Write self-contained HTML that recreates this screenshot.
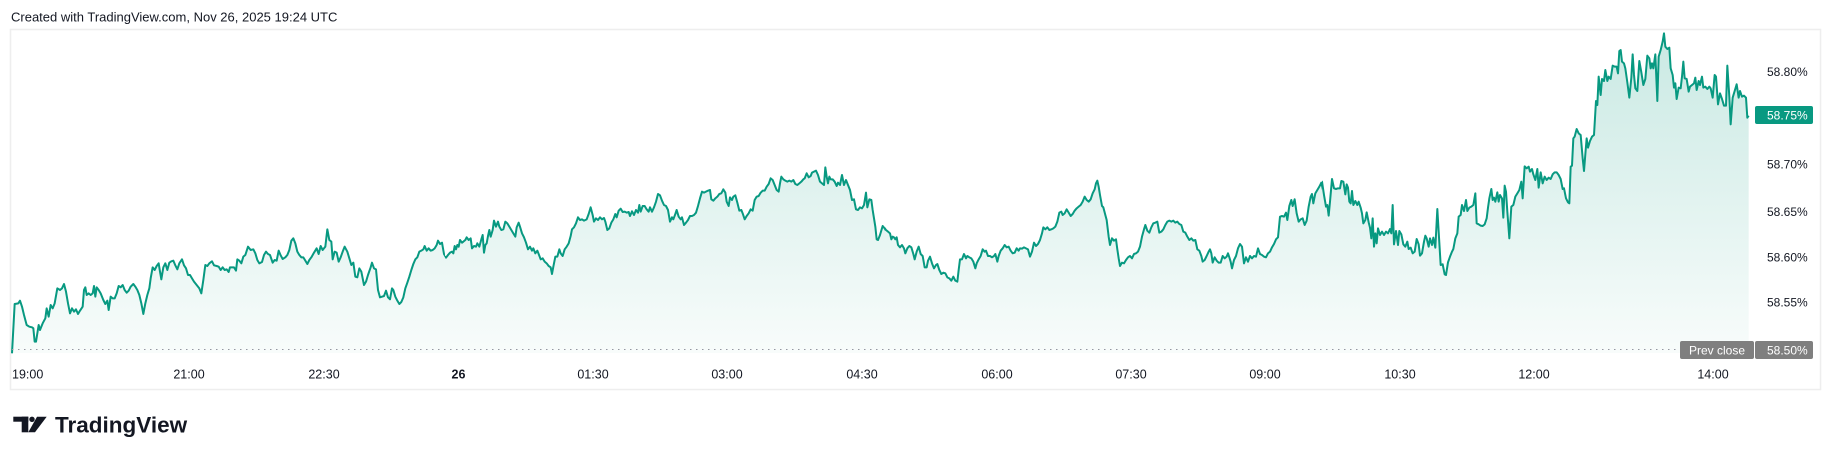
<!DOCTYPE html>
<html><head><meta charset="utf-8"><style>
html,body{margin:0;padding:0;background:#fff;}
body{width:1831px;height:458px;overflow:hidden;}
svg{display:block;font-family:"Liberation Sans",sans-serif;}
</style></head><body>
<svg width="1831" height="458" viewBox="0 0 1831 458" xmlns="http://www.w3.org/2000/svg">
<defs>
<linearGradient id="g1" gradientUnits="userSpaceOnUse" x1="0" y1="-450" x2="0" y2="519"><stop offset="0" stop-color="#c9e9e3"/><stop offset="1" stop-color="#f8fcfb"/></linearGradient>
<linearGradient id="g2" gradientUnits="userSpaceOnUse" x1="0" y1="-300" x2="0" y2="669"><stop offset="0" stop-color="#c9e9e3"/><stop offset="1" stop-color="#f8fcfb"/></linearGradient>
<linearGradient id="g3" gradientUnits="userSpaceOnUse" x1="0" y1="-360" x2="0" y2="609"><stop offset="0" stop-color="#c9e9e3"/><stop offset="1" stop-color="#f8fcfb"/></linearGradient>
<linearGradient id="g4" gradientUnits="userSpaceOnUse" x1="0" y1="15" x2="0" y2="984"><stop offset="0" stop-color="#c9e9e3"/><stop offset="1" stop-color="#f8fcfb"/></linearGradient>
<clipPath id="c1"><rect x="0" y="25" width="445" height="335"/></clipPath>
<clipPath id="c2"><rect x="445" y="25" width="440" height="335"/></clipPath>
<clipPath id="c3"><rect x="885" y="25" width="437" height="335"/></clipPath>
<clipPath id="c4"><rect x="1322" y="25" width="430" height="335"/></clipPath>
</defs>

<text x="11" y="21.5" font-size="13" fill="#131722">Created with TradingView.com, Nov 26, 2025 19:24 UTC</text>

<rect x="10.5" y="29.5" width="1810" height="360" fill="#fff" stroke="#eeeeee" stroke-width="1.5"/>

<!-- segment 1 -->
<g clip-path="url(#c1)"><g transform="translate(0,180) scale(0.33333)">
<polygon fill="url(#g1)" points="36,520 44,372 55,370 60,362 66,380 72,405 80,435 88,440 96,442 100,445 104,485 108,485 116,435 120,450 128,430 136,415 140,385 146,410 152,375 158,385 164,370 172,325 180,330 186,325 192,312 198,335 204,370 210,400 216,385 222,395 228,388 234,402 240,392 248,380 252,330 256,322 260,345 266,340 272,345 278,340 282,318 286,350 290,322 296,330 302,340 310,360 316,372 322,362 326,390 332,350 338,355 344,355 350,340 356,318 362,322 368,315 374,330 380,338 386,332 392,320 400,312 406,320 412,330 418,345 424,370 430,402 436,370 442,345 448,325 452,295 458,262 464,270 470,258 476,250 480,275 484,298 490,262 496,250 502,270 508,248 514,244 520,242 526,256 532,268 538,250 546,238 552,256 558,265 564,285 570,285 576,295 582,305 590,315 598,325 604,340 610,300 616,255 622,258 628,250 636,244 642,256 650,258 656,260 662,270 668,262 674,270 680,268 686,276 690,262 696,262 702,262 708,272 712,238 718,242 724,250 730,230 736,225 744,200 752,210 760,208 766,220 772,240 778,250 786,246 792,225 798,215 804,222 810,225 818,248 824,240 830,242 836,212 842,226 848,237 856,232 862,225 868,210 874,182 880,175 886,190 892,215 898,225 904,232 910,232 916,242 922,252 928,240 934,232 942,218 950,205 956,222 962,198 968,210 976,200 982,148 988,180 994,185 998,238 1004,215 1010,218 1016,245 1022,232 1028,215 1034,200 1042,215 1048,235 1054,255 1060,248 1066,290 1072,292 1078,265 1084,275 1092,315 1098,305 1104,285 1112,262 1116,248 1122,265 1128,268 1134,330 1140,352 1146,350 1152,348 1158,332 1164,352 1170,358 1176,325 1180,330 1186,350 1192,362 1198,372 1204,366 1210,352 1216,325 1222,308 1228,290 1234,270 1240,252 1246,238 1252,232 1258,215 1264,212 1270,208 1274,198 1280,212 1286,205 1292,212 1298,210 1304,205 1310,195 1314,182 1320,192 1326,188 1332,222 1338,232 1344,228 1350,218 1350,519 36,519"/>
<polyline fill="none" stroke="#089981" stroke-width="2" stroke-linejoin="round" vector-effect="non-scaling-stroke" points="36,520 44,372 55,370 60,362 66,380 72,405 80,435 88,440 96,442 100,445 104,485 108,485 116,435 120,450 128,430 136,415 140,385 146,410 152,375 158,385 164,370 172,325 180,330 186,325 192,312 198,335 204,370 210,400 216,385 222,395 228,388 234,402 240,392 248,380 252,330 256,322 260,345 266,340 272,345 278,340 282,318 286,350 290,322 296,330 302,340 310,360 316,372 322,362 326,390 332,350 338,355 344,355 350,340 356,318 362,322 368,315 374,330 380,338 386,332 392,320 400,312 406,320 412,330 418,345 424,370 430,402 436,370 442,345 448,325 452,295 458,262 464,270 470,258 476,250 480,275 484,298 490,262 496,250 502,270 508,248 514,244 520,242 526,256 532,268 538,250 546,238 552,256 558,265 564,285 570,285 576,295 582,305 590,315 598,325 604,340 610,300 616,255 622,258 628,250 636,244 642,256 650,258 656,260 662,270 668,262 674,270 680,268 686,276 690,262 696,262 702,262 708,272 712,238 718,242 724,250 730,230 736,225 744,200 752,210 760,208 766,220 772,240 778,250 786,246 792,225 798,215 804,222 810,225 818,248 824,240 830,242 836,212 842,226 848,237 856,232 862,225 868,210 874,182 880,175 886,190 892,215 898,225 904,232 910,232 916,242 922,252 928,240 934,232 942,218 950,205 956,222 962,198 968,210 976,200 982,148 988,180 994,185 998,238 1004,215 1010,218 1016,245 1022,232 1028,215 1034,200 1042,215 1048,235 1054,255 1060,248 1066,290 1072,292 1078,265 1084,275 1092,315 1098,305 1104,285 1112,262 1116,248 1122,265 1128,268 1134,330 1140,352 1146,350 1152,348 1158,332 1164,352 1170,358 1176,325 1180,330 1186,350 1192,362 1198,372 1204,366 1210,352 1216,325 1222,308 1228,290 1234,270 1240,252 1246,238 1252,232 1258,215 1264,212 1270,208 1274,198 1280,212 1286,205 1292,212 1298,210 1304,205 1310,195 1314,182 1320,192 1326,188 1332,222 1338,232 1344,228 1350,218"/>
</g></g>

<!-- segment 2 -->
<g clip-path="url(#c2)"><g transform="translate(440,130) scale(0.33333)">
<polygon fill="url(#g2)" points="0,340 6,355 12,378 18,383 24,375 30,368 36,365 40,370 44,348 48,358 52,345 56,350 60,330 66,338 70,335 76,330 80,322 86,330 92,325 96,355 102,348 108,350 112,340 118,350 124,328 128,315 132,368 136,345 140,340 144,318 148,300 152,320 158,300 162,272 168,290 174,275 178,290 184,300 190,298 196,275 202,280 208,290 214,300 220,310 226,320 230,292 236,278 240,290 246,310 252,322 258,338 264,358 270,350 276,362 280,355 286,370 292,362 296,372 302,388 308,385 314,395 320,400 326,408 332,412 336,432 340,410 346,380 352,380 358,358 362,370 368,378 374,358 380,350 386,340 392,318 396,298 402,292 408,280 414,262 420,270 426,268 432,272 440,268 446,252 452,232 458,255 462,275 468,265 474,270 480,262 486,268 492,264 496,275 502,300 508,295 514,278 520,268 526,252 530,262 536,242 542,236 548,246 554,245 560,248 566,246 570,258 576,244 582,255 588,240 594,248 598,225 602,245 608,228 614,228 620,238 626,245 630,232 636,245 642,232 648,215 654,192 660,196 666,212 672,225 678,228 684,240 690,275 696,262 700,268 706,252 710,240 716,260 722,268 726,262 732,285 738,278 744,270 750,258 756,258 762,255 768,248 774,228 780,205 786,185 792,188 798,185 804,182 810,180 814,208 820,212 826,205 832,200 838,192 844,190 850,178 856,188 860,215 866,228 870,202 876,210 880,200 886,196 892,218 898,242 904,240 908,250 914,268 920,258 926,250 932,238 938,242 944,210 950,200 956,198 962,188 968,182 974,182 980,170 986,162 992,145 998,150 1004,165 1010,180 1016,185 1020,160 1024,140 1030,148 1036,152 1042,155 1048,152 1054,155 1060,150 1066,162 1072,165 1078,160 1084,155 1090,148 1094,145 1100,130 1106,142 1112,138 1116,128 1122,125 1128,122 1134,135 1140,155 1146,160 1152,165 1156,112 1160,140 1164,160 1168,140 1172,148 1178,148 1184,155 1190,168 1194,158 1200,165 1206,135 1212,165 1218,150 1224,165 1230,180 1236,210 1242,208 1248,238 1254,240 1260,232 1266,235 1272,225 1278,188 1282,232 1288,208 1294,210 1298,240 1302,265 1306,290 1310,328 1314,330 1320,315 1328,288 1334,295 1340,305 1346,310 1350,318 1350,669 0,669"/>
<polyline fill="none" stroke="#089981" stroke-width="2" stroke-linejoin="round" vector-effect="non-scaling-stroke" points="0,340 6,355 12,378 18,383 24,375 30,368 36,365 40,370 44,348 48,358 52,345 56,350 60,330 66,338 70,335 76,330 80,322 86,330 92,325 96,355 102,348 108,350 112,340 118,350 124,328 128,315 132,368 136,345 140,340 144,318 148,300 152,320 158,300 162,272 168,290 174,275 178,290 184,300 190,298 196,275 202,280 208,290 214,300 220,310 226,320 230,292 236,278 240,290 246,310 252,322 258,338 264,358 270,350 276,362 280,355 286,370 292,362 296,372 302,388 308,385 314,395 320,400 326,408 332,412 336,432 340,410 346,380 352,380 358,358 362,370 368,378 374,358 380,350 386,340 392,318 396,298 402,292 408,280 414,262 420,270 426,268 432,272 440,268 446,252 452,232 458,255 462,275 468,265 474,270 480,262 486,268 492,264 496,275 502,300 508,295 514,278 520,268 526,252 530,262 536,242 542,236 548,246 554,245 560,248 566,246 570,258 576,244 582,255 588,240 594,248 598,225 602,245 608,228 614,228 620,238 626,245 630,232 636,245 642,232 648,215 654,192 660,196 666,212 672,225 678,228 684,240 690,275 696,262 700,268 706,252 710,240 716,260 722,268 726,262 732,285 738,278 744,270 750,258 756,258 762,255 768,248 774,228 780,205 786,185 792,188 798,185 804,182 810,180 814,208 820,212 826,205 832,200 838,192 844,190 850,178 856,188 860,215 866,228 870,202 876,210 880,200 886,196 892,218 898,242 904,240 908,250 914,268 920,258 926,250 932,238 938,242 944,210 950,200 956,198 962,188 968,182 974,182 980,170 986,162 992,145 998,150 1004,165 1010,180 1016,185 1020,160 1024,140 1030,148 1036,152 1042,155 1048,152 1054,155 1060,150 1066,162 1072,165 1078,160 1084,155 1090,148 1094,145 1100,130 1106,142 1112,138 1116,128 1122,125 1128,122 1134,135 1140,155 1146,160 1152,165 1156,112 1160,140 1164,160 1168,140 1172,148 1178,148 1184,155 1190,168 1194,158 1200,165 1206,135 1212,165 1218,150 1224,165 1230,180 1236,210 1242,208 1248,238 1254,240 1260,232 1266,235 1272,225 1278,188 1282,232 1288,208 1294,210 1298,240 1302,265 1306,290 1310,328 1314,330 1320,315 1328,288 1334,295 1340,305 1346,310 1350,318"/>
</g></g>

<!-- segment 3 -->
<g clip-path="url(#c3)"><g transform="translate(880,150) scale(0.33333)">
<polygon fill="url(#g3)" points="0,252 6,228 12,232 18,240 24,245 30,250 34,268 38,260 42,262 46,268 50,262 54,285 60,292 66,285 72,295 76,310 82,295 88,288 94,292 100,312 104,328 110,305 116,290 122,312 128,318 134,352 140,352 144,332 150,320 156,340 162,355 168,345 172,342 178,360 184,372 190,368 196,370 202,382 208,385 214,392 220,380 226,392 232,395 236,360 240,328 246,328 252,312 258,325 262,318 268,322 274,325 280,335 286,355 290,340 296,328 302,318 308,298 314,305 318,302 324,318 330,318 336,322 342,318 346,312 352,335 356,318 362,302 368,295 374,285 380,292 386,290 392,302 398,310 404,308 410,295 416,302 420,295 426,296 432,292 438,295 444,298 450,320 456,305 462,278 468,288 474,282 480,270 486,250 490,232 496,238 502,232 508,240 514,238 520,235 526,230 532,215 538,188 544,185 548,195 554,190 560,178 566,188 572,198 578,192 584,182 590,175 596,170 602,165 608,155 614,140 620,150 626,155 632,148 638,130 644,118 648,100 652,92 656,110 660,135 666,168 670,172 676,195 680,210 686,260 690,285 696,265 702,272 708,268 712,298 716,325 720,348 726,338 732,340 738,330 744,322 750,318 756,325 762,312 768,310 774,305 780,290 786,260 792,238 796,225 802,242 808,248 814,232 820,220 826,218 832,215 838,248 844,245 850,238 856,225 862,215 868,212 874,215 880,212 886,218 892,215 898,222 904,225 910,245 916,248 922,260 928,270 934,265 940,272 946,270 952,298 958,302 964,318 968,335 974,330 980,318 986,305 990,298 994,310 998,338 1004,322 1010,332 1016,338 1022,338 1028,318 1034,325 1040,320 1044,310 1048,322 1052,335 1056,355 1062,330 1068,318 1074,295 1080,282 1086,290 1092,340 1098,322 1104,335 1110,318 1116,325 1122,318 1128,320 1134,295 1140,312 1146,315 1152,320 1158,322 1164,310 1170,305 1176,292 1182,282 1188,268 1194,262 1200,200 1206,198 1212,200 1218,188 1222,210 1228,168 1234,150 1238,168 1244,148 1250,190 1256,215 1262,208 1268,205 1274,225 1280,212 1286,170 1292,140 1296,132 1300,160 1306,130 1312,120 1318,110 1324,98 1330,125 1336,158 1338,182 1342,170 1346,198 1350,195 1350,609 0,609"/>
<polyline fill="none" stroke="#089981" stroke-width="2" stroke-linejoin="round" vector-effect="non-scaling-stroke" points="0,252 6,228 12,232 18,240 24,245 30,250 34,268 38,260 42,262 46,268 50,262 54,285 60,292 66,285 72,295 76,310 82,295 88,288 94,292 100,312 104,328 110,305 116,290 122,312 128,318 134,352 140,352 144,332 150,320 156,340 162,355 168,345 172,342 178,360 184,372 190,368 196,370 202,382 208,385 214,392 220,380 226,392 232,395 236,360 240,328 246,328 252,312 258,325 262,318 268,322 274,325 280,335 286,355 290,340 296,328 302,318 308,298 314,305 318,302 324,318 330,318 336,322 342,318 346,312 352,335 356,318 362,302 368,295 374,285 380,292 386,290 392,302 398,310 404,308 410,295 416,302 420,295 426,296 432,292 438,295 444,298 450,320 456,305 462,278 468,288 474,282 480,270 486,250 490,232 496,238 502,232 508,240 514,238 520,235 526,230 532,215 538,188 544,185 548,195 554,190 560,178 566,188 572,198 578,192 584,182 590,175 596,170 602,165 608,155 614,140 620,150 626,155 632,148 638,130 644,118 648,100 652,92 656,110 660,135 666,168 670,172 676,195 680,210 686,260 690,285 696,265 702,272 708,268 712,298 716,325 720,348 726,338 732,340 738,330 744,322 750,318 756,325 762,312 768,310 774,305 780,290 786,260 792,238 796,225 802,242 808,248 814,232 820,220 826,218 832,215 838,248 844,245 850,238 856,225 862,215 868,212 874,215 880,212 886,218 892,215 898,222 904,225 910,245 916,248 922,260 928,270 934,265 940,272 946,270 952,298 958,302 964,318 968,335 974,330 980,318 986,305 990,298 994,310 998,338 1004,322 1010,332 1016,338 1022,338 1028,318 1034,325 1040,320 1044,310 1048,322 1052,335 1056,355 1062,330 1068,318 1074,295 1080,282 1086,290 1092,340 1098,322 1104,335 1110,318 1116,325 1122,318 1128,320 1134,295 1140,312 1146,315 1152,320 1158,322 1164,310 1170,305 1176,292 1182,282 1188,268 1194,262 1200,200 1206,198 1212,200 1218,188 1222,210 1228,168 1234,150 1238,168 1244,148 1250,190 1256,215 1262,208 1268,205 1274,225 1280,212 1286,170 1292,140 1296,132 1300,160 1306,130 1312,120 1318,110 1324,98 1330,125 1336,158 1338,182 1342,170 1346,198 1350,195"/>
</g></g>

<!-- segment 4 -->
<g clip-path="url(#c4)"><g transform="translate(1320,25) scale(0.33333)">
<polygon fill="url(#g4)" points="0,470 6,470 12,510 18,545 22,540 26,572 30,530 36,462 42,490 48,492 54,490 60,490 64,468 70,470 76,508 80,478 84,488 88,530 92,535 96,498 100,540 106,528 112,540 116,530 122,548 126,565 130,595 136,585 140,562 146,592 150,608 154,640 158,580 162,665 166,625 170,655 174,610 180,630 186,620 192,630 198,620 204,625 210,612 214,625 218,540 222,658 228,618 234,660 238,618 244,628 250,658 256,665 262,650 266,672 272,668 278,685 284,680 290,642 296,658 300,692 306,685 312,650 316,632 320,640 326,665 330,640 336,660 340,638 346,668 352,552 356,620 362,720 368,718 374,748 378,750 384,712 390,695 396,680 400,672 406,640 412,625 416,575 422,570 426,540 432,558 438,525 442,558 448,548 454,545 460,540 466,505 470,595 476,598 482,602 488,603 494,598 500,580 504,548 508,520 514,492 518,525 522,518 526,530 532,502 536,530 540,510 546,520 550,578 554,482 558,500 562,560 568,640 574,545 580,540 586,515 592,505 598,495 604,470 608,520 614,424 620,430 626,425 630,440 636,432 640,448 646,465 652,432 656,488 662,442 668,475 674,455 680,465 686,458 692,462 698,448 704,442 710,442 716,450 722,462 728,492 732,490 738,520 744,532 748,535 752,425 756,422 760,340 764,335 770,312 776,325 782,330 788,400 792,438 796,388 800,340 804,368 810,348 816,335 822,330 828,228 832,240 836,155 842,210 846,162 852,168 856,135 862,168 866,155 872,162 878,122 884,125 890,125 894,145 898,78 902,75 906,110 912,115 916,130 922,172 928,218 934,158 938,88 942,150 946,190 952,198 958,108 964,142 970,180 976,162 982,92 988,100 992,130 996,115 1000,130 1006,88 1012,228 1016,95 1022,75 1028,50 1032,25 1036,65 1042,72 1048,68 1052,130 1058,150 1062,188 1066,175 1070,222 1076,188 1082,190 1086,155 1090,110 1094,160 1100,162 1106,200 1110,185 1116,180 1122,175 1126,158 1130,195 1136,168 1140,180 1146,155 1150,188 1156,185 1162,192 1168,185 1172,190 1178,218 1184,150 1188,155 1194,238 1200,205 1206,222 1212,242 1218,242 1222,122 1228,215 1232,298 1238,218 1244,198 1250,178 1256,218 1260,198 1266,215 1272,212 1278,218 1282,278 1286,272 1286,984 0,984"/>
<polyline fill="none" stroke="#089981" stroke-width="2" stroke-linejoin="round" vector-effect="non-scaling-stroke" points="0,470 6,470 12,510 18,545 22,540 26,572 30,530 36,462 42,490 48,492 54,490 60,490 64,468 70,470 76,508 80,478 84,488 88,530 92,535 96,498 100,540 106,528 112,540 116,530 122,548 126,565 130,595 136,585 140,562 146,592 150,608 154,640 158,580 162,665 166,625 170,655 174,610 180,630 186,620 192,630 198,620 204,625 210,612 214,625 218,540 222,658 228,618 234,660 238,618 244,628 250,658 256,665 262,650 266,672 272,668 278,685 284,680 290,642 296,658 300,692 306,685 312,650 316,632 320,640 326,665 330,640 336,660 340,638 346,668 352,552 356,620 362,720 368,718 374,748 378,750 384,712 390,695 396,680 400,672 406,640 412,625 416,575 422,570 426,540 432,558 438,525 442,558 448,548 454,545 460,540 466,505 470,595 476,598 482,602 488,603 494,598 500,580 504,548 508,520 514,492 518,525 522,518 526,530 532,502 536,530 540,510 546,520 550,578 554,482 558,500 562,560 568,640 574,545 580,540 586,515 592,505 598,495 604,470 608,520 614,424 620,430 626,425 630,440 636,432 640,448 646,465 652,432 656,488 662,442 668,475 674,455 680,465 686,458 692,462 698,448 704,442 710,442 716,450 722,462 728,492 732,490 738,520 744,532 748,535 752,425 756,422 760,340 764,335 770,312 776,325 782,330 788,400 792,438 796,388 800,340 804,368 810,348 816,335 822,330 828,228 832,240 836,155 842,210 846,162 852,168 856,135 862,168 866,155 872,162 878,122 884,125 890,125 894,145 898,78 902,75 906,110 912,115 916,130 922,172 928,218 934,158 938,88 942,150 946,190 952,198 958,108 964,142 970,180 976,162 982,92 988,100 992,130 996,115 1000,130 1006,88 1012,228 1016,95 1022,75 1028,50 1032,25 1036,65 1042,72 1048,68 1052,130 1058,150 1062,188 1066,175 1070,222 1076,188 1082,190 1086,155 1090,110 1094,160 1100,162 1106,200 1110,185 1116,180 1122,175 1126,158 1130,195 1136,168 1140,180 1146,155 1150,188 1156,185 1162,192 1168,185 1172,190 1178,218 1184,150 1188,155 1194,238 1200,205 1206,222 1212,242 1218,242 1222,122 1228,215 1232,298 1238,218 1244,198 1250,178 1256,218 1260,198 1266,215 1272,212 1278,218 1282,278 1286,272"/>
</g></g>

<!-- prev close dotted line -->
<line x1="12" y1="349.5" x2="1752" y2="349.5" stroke="#9598a1" stroke-width="1" stroke-dasharray="1.5 4.5"/>

<!-- price axis labels -->
<g font-size="12" fill="#131722">
<text x="1767" y="76">58.80%</text>
<text x="1767" y="168.5">58.70%</text>
<text x="1767" y="216">58.65%</text>
<text x="1767" y="261.5">58.60%</text>
<text x="1767" y="306.5">58.55%</text>
</g>
<rect x="1755" y="106" width="58" height="18" rx="2" fill="#089981"/>
<text x="1767" y="119.5" font-size="12" fill="#ffffff">58.75%</text>

<rect x="1680" y="341" width="74" height="18" rx="2" fill="#7f7f7f"/>
<rect x="1755" y="341" width="58" height="18" rx="2" fill="#7f7f7f"/>
<text x="1717" y="354.5" font-size="12" fill="#ffffff" text-anchor="middle">Prev close</text>
<text x="1767" y="354.5" font-size="12" fill="#ffffff">58.50%</text>

<!-- time axis -->
<g font-size="12.5" fill="#131722" text-anchor="middle">
<text x="12" y="378.5" text-anchor="start">19:00</text>
<text x="189" y="378.5">21:00</text>
<text x="324" y="378.5">22:30</text>
<text x="458.5" y="378.5" font-weight="bold">26</text>
<text x="593" y="378.5">01:30</text>
<text x="727" y="378.5">03:00</text>
<text x="862" y="378.5">04:30</text>
<text x="997" y="378.5">06:00</text>
<text x="1131" y="378.5">07:30</text>
<text x="1265" y="378.5">09:00</text>
<text x="1400" y="378.5">10:30</text>
<text x="1534" y="378.5">12:00</text>
<text x="1713" y="378.5">14:00</text>
</g>

<!-- logo -->
<g fill="#131722">
<rect x="13.3" y="416.7" width="15" height="5"/>
<rect x="21.7" y="416.7" width="6.6" height="15.6"/>
<circle cx="32" cy="419.3" r="2.7"/>
<polygon points="37,416.7 46.7,416.7 35,432.3 28.3,432.3"/>
</g>
<text x="55" y="432.3" font-size="22.5" font-weight="bold" fill="#131722">TradingView</text>
</svg>
</body></html>
